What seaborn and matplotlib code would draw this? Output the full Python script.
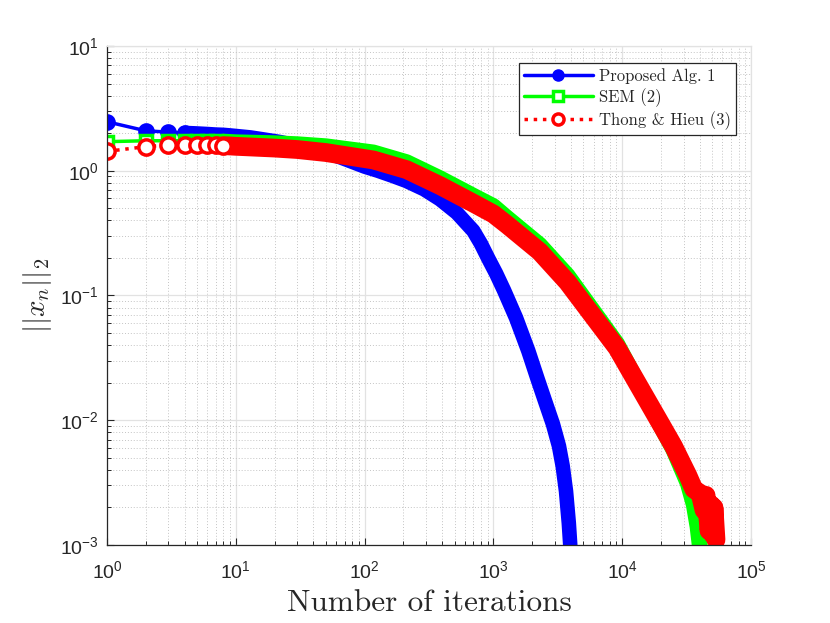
import matplotlib
matplotlib.use('Agg')
import seaborn as sns
from matplotlib import pyplot as plt
from matplotlib.lines import Line2D

# iterations / norm values (log-log)
alg1_iter = [1, 2, 3, 4, 5, 6, 7, 8, 9, 10, 13, 16, 22, 30, 45, 65, 100, 127, 165, 210, 290,
             385, 520, 698, 800, 908, 1050, 1209, 1500, 1866, 2200, 2515, 2900, 3230, 3450,
             3662, 3850, 3950]
alg1_norm = [2.47, 2.09, 2.04, 2.01, 1.99, 1.97, 1.95, 1.94, 1.92, 1.90, 1.85, 1.79, 1.70, 1.59,
             1.45, 1.28, 1.08, 1.0, 0.91, 0.83, 0.71, 0.59, 0.46, 0.33, 0.26, 0.20, 0.15, 0.11,
             0.066, 0.036, 0.0215, 0.0143, 0.0093, 0.0062, 0.0043, 0.0027, 0.0015, 0.001]

sem_iter = [1, 2, 3, 4, 5, 6, 7, 8, 9, 10, 20, 30, 50, 117, 212, 385, 698, 1000, 1274, 2287,
            3758, 9120, 18970, 25000, 32400, 36000, 38500, 40000]
sem_norm = [1.71, 1.74, 1.74, 1.74, 1.73, 1.73, 1.72, 1.71, 1.70, 1.69, 1.66, 1.63, 1.57, 1.40,
            1.17, 0.87, 0.63, 0.52, 0.42, 0.255, 0.145, 0.041, 0.0099, 0.0058, 0.0031, 0.0021,
            0.0014, 0.001]

th_iter = [1, 2, 3, 4, 5, 6, 7, 8, 9, 10, 20, 30, 50, 117, 212, 385, 698, 1000, 1274, 2287,
           3758, 9120, 18970, 25000, 32400, 36000, 40200, 43200, 44800, 47200, 49100, 50900,
           51600, 53500]
th_norm = [1.43, 1.56, 1.61, 1.62, 1.62, 1.61, 1.60, 1.59, 1.58, 1.57, 1.52, 1.48, 1.40, 1.22,
           1.02, 0.76, 0.55, 0.45, 0.37, 0.225, 0.128, 0.038, 0.0102, 0.0062, 0.0036, 0.0028,
           0.0026, 0.0019, 0.0025, 0.0013, 0.0021, 0.0012, 0.0020, 0.0011]

labels = ['Proposed Alg. 1', 'SEM (2)', 'Thong & Hieu (3)']

sns.set_style('white')
plt.rcParams['font.family'] = ['Liberation Sans', 'DejaVu Sans']
plt.rcParams['mathtext.fontset'] = 'cm'

fig = plt.figure(figsize=(8.3, 6.23), dpi=100)
ax = fig.add_axes([107 / 830, 78 / 623, 644 / 830, 499 / 623])
ax.set_xscale('log')
ax.set_yscale('log')

# (x, y, colour, band start, band width, marker, ms, face, linestyle)
series = [
    (alg1_iter, alg1_norm, (0, 0, 1), 4, 10.5, 'o', 9.5, (0, 0, 1), '-'),
    (sem_iter, sem_norm, (0, 1, 0), 8, 11.5, 's', 8, 'white', '-'),
    (th_iter, th_norm, (1, 0, 0), 8, 13.5, 'o', 11, 'white', ':'),
]

for xs, ys, col, start, bw, mk, ms, face, ls in series:
    k = xs.index(start)
    # dense markers merge into a thick band on the log axis
    sns.lineplot(x=xs[k:], y=ys[k:], ax=ax, color=col, linewidth=bw, estimator=None,
                 sort=False, solid_capstyle='round', solid_joinstyle='round')
    sns.lineplot(x=xs[:k + 1], y=ys[:k + 1], ax=ax, color=col, linewidth=2.5, linestyle=ls,
                 marker=mk, markersize=ms, markerfacecolor=face, markeredgecolor=col,
                 markeredgewidth=2.5, estimator=None, sort=False)

ax.set_xlim(1, 1e5)
ax.set_ylim(1e-3, 10)

ax.grid(True, which='major', color='#e2e2e2', linestyle='-', linewidth=0.9)
ax.grid(True, which='minor', color='#c4c4c4', linestyle=(0, (1, 2)), linewidth=0.7)
ax.set_axisbelow(True)

for s in ['left', 'bottom']:
    ax.spines[s].set_color('#262626')
    ax.spines[s].set_linewidth(0.9)
for s in ['top', 'right']:
    ax.spines[s].set_color('#e2e2e2')
    ax.spines[s].set_linewidth(0.9)

ax.tick_params(which='both', direction='in', colors='#262626', top=False, right=False,
               left=True, bottom=True)
ax.tick_params(which='major', length=5, width=0.8, labelsize=14)
ax.tick_params(which='minor', length=3, width=0.7)
ax.tick_params(axis='x', which='major', pad=11)
ax.tick_params(axis='y', which='major', pad=6)

ax.set_xlabel('Number of iterations', fontfamily='cmr10', fontsize=22.5, labelpad=5)
ax.set_ylabel(r'$||x_n||_2$', fontsize=21, labelpad=4)

handles = [
    Line2D([], [], color=(0, 0, 1), lw=2.5, marker='o', ms=8, mfc=(0, 0, 1), mec=(0, 0, 1)),
    Line2D([], [], color=(0, 1, 0), lw=2.5, marker='s', ms=6.5, mfc='white', mec=(0, 1, 0), mew=2.5),
    Line2D([], [], color=(1, 0, 0), lw=2.5, ls=':', marker='o', ms=8, mfc='white',
           mec=(1, 0, 0), mew=2.5),
]
leg = ax.legend(handles, labels, loc='upper right', bbox_to_anchor=(0.977, 0.966),
                prop={'family': 'cmr10', 'size': 12}, frameon=True, fancybox=False,
                framealpha=1, edgecolor='#262626', borderaxespad=0, handlelength=4.1,
                handletextpad=0.4, labelspacing=0.25, borderpad=0.3)
leg.get_frame().set_linewidth(0.9)

fig.savefig('out.png', dpi=100, facecolor='white')
